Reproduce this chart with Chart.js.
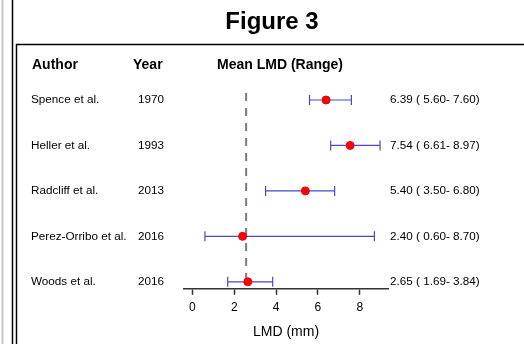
<!DOCTYPE html>
<html>
<head>
<meta charset="utf-8">
<script src="https://cdn.jsdelivr.net/npm/chart.js@4"></script>
<style>
  html, body { margin: 0; padding: 0; background: #fff; }
  #wrap { position: relative; width: 524px; height: 344px; }
</style>
</head>
<body>
<div id="wrap"><canvas id="c" width="524" height="344"></canvas></div>
<script>
// study rows, top to bottom
const authors = ['Spence et al.', 'Heller et al.', 'Radcliff et al.', 'Perez-Orribo et al.', 'Woods et al.'];
const years = ['1970', '1993', '2013', '2016', '2016'];
const means = [6.39, 7.54, 5.40, 2.40, 2.65];
const lows = [5.60, 6.61, 3.50, 0.60, 1.69];
const highs = [7.60, 8.97, 6.80, 8.70, 3.84];
const xTicks = [0, 2, 4, 6, 8];
const refLine = 2.57;

const fmt = v => v.toFixed(2);
const FONT = '"Liberation Sans", Arial, sans-serif';

const forestPlugin = {
  id: 'forest',
  beforeDraw(chart) {
    const ctx = chart.ctx;
    ctx.save();
    // page frame
    ctx.strokeStyle = '#c8c8c8'; ctx.lineWidth = 2;
    ctx.beginPath(); ctx.moveTo(2.5, 0); ctx.lineTo(2.5, 344); ctx.stroke();
    ctx.strokeStyle = '#000'; ctx.lineWidth = 1.5;
    ctx.beginPath(); ctx.moveTo(12.5, 0); ctx.lineTo(12.5, 344); ctx.stroke();
    ctx.beginPath(); ctx.moveTo(16.5, 344); ctx.lineTo(16.5, 44.5); ctx.lineTo(524, 44.5); ctx.stroke();

    ctx.fillStyle = '#000';
    ctx.textBaseline = 'middle';
    ctx.textAlign = 'center';
    ctx.font = 'bold 24px ' + FONT;
    ctx.fillText('Figure 3', 272, 22);

    ctx.textAlign = 'left';
    ctx.font = 'bold 14px ' + FONT;
    ctx.fillText('Author', 32, 65);
    ctx.fillText('Year', 133, 65);
    ctx.fillText('Mean LMD (Range)', 217, 65);

    const x = chart.scales.x, y = chart.scales.y;
    ctx.font = '11.7px ' + FONT;
    authors.forEach((a, i) => {
      const py = y.getPixelForValue(i);
      ctx.fillText(a, 31, py);
      ctx.fillText(years[i], 138, py);
      ctx.fillText(fmt(means[i]) + ' ( ' + fmt(lows[i]) + '- ' + fmt(highs[i]) + ')', 390, py);
    });

    // reference dashed line
    const rx = x.getPixelForValue(refLine);
    ctx.strokeStyle = '#7a7a7a'; ctx.lineWidth = 2; ctx.setLineDash([8, 7]);
    ctx.beginPath(); ctx.moveTo(rx, chart.chartArea.top); ctx.lineTo(rx, chart.chartArea.bottom); ctx.stroke();
    ctx.setLineDash([]);

    // range bars
    ctx.strokeStyle = '#4848c8'; ctx.lineWidth = 1.2;
    means.forEach((m, i) => {
      const py = y.getPixelForValue(i);
      const x0 = x.getPixelForValue(lows[i]), x1 = x.getPixelForValue(highs[i]);
      ctx.beginPath();
      ctx.moveTo(x0, py); ctx.lineTo(x1, py);
      ctx.moveTo(x0, py - 5); ctx.lineTo(x0, py + 5);
      ctx.moveTo(x1, py - 5); ctx.lineTo(x1, py + 5);
      ctx.stroke();
    });
    ctx.restore();
  }
};

new Chart(document.getElementById('c'), {
  type: 'scatter',
  data: {
    datasets: [{
      data: means.map((m, i) => ({ x: m, y: i })),
      backgroundColor: '#ff0000',
      borderColor: '#ee0000',
      pointRadius: 4,
      pointHoverRadius: 4
    }]
  },
  options: {
    responsive: false,
    animation: false,
    layout: { padding: { left: 184, right: 136, top: 93, bottom: 3 } },
    plugins: { legend: { display: false }, tooltip: { enabled: false } },
    scales: {
      x: {
        type: 'linear', min: -0.4, max: 9.35,
        afterBuildTicks: s => { s.ticks = xTicks.map(v => ({ value: v })); },
        grid: { drawOnChartArea: false, drawTicks: true, tickLength: 6, tickColor: '#333', tickWidth: 1.5 },
        border: { color: '#333', width: 1.5 },
        ticks: { color: '#000', font: { family: FONT, size: 12 }, padding: 6, maxRotation: 0 },
        title: { display: true, text: 'LMD (mm)', color: '#000', font: { family: FONT, size: 14 }, padding: { top: 3, bottom: 0 } }
      },
      y: { type: 'linear', min: -0.154, max: 4.154, reverse: true, display: false }
    }
  },
  plugins: [forestPlugin]
});
</script>
</body>
</html>
